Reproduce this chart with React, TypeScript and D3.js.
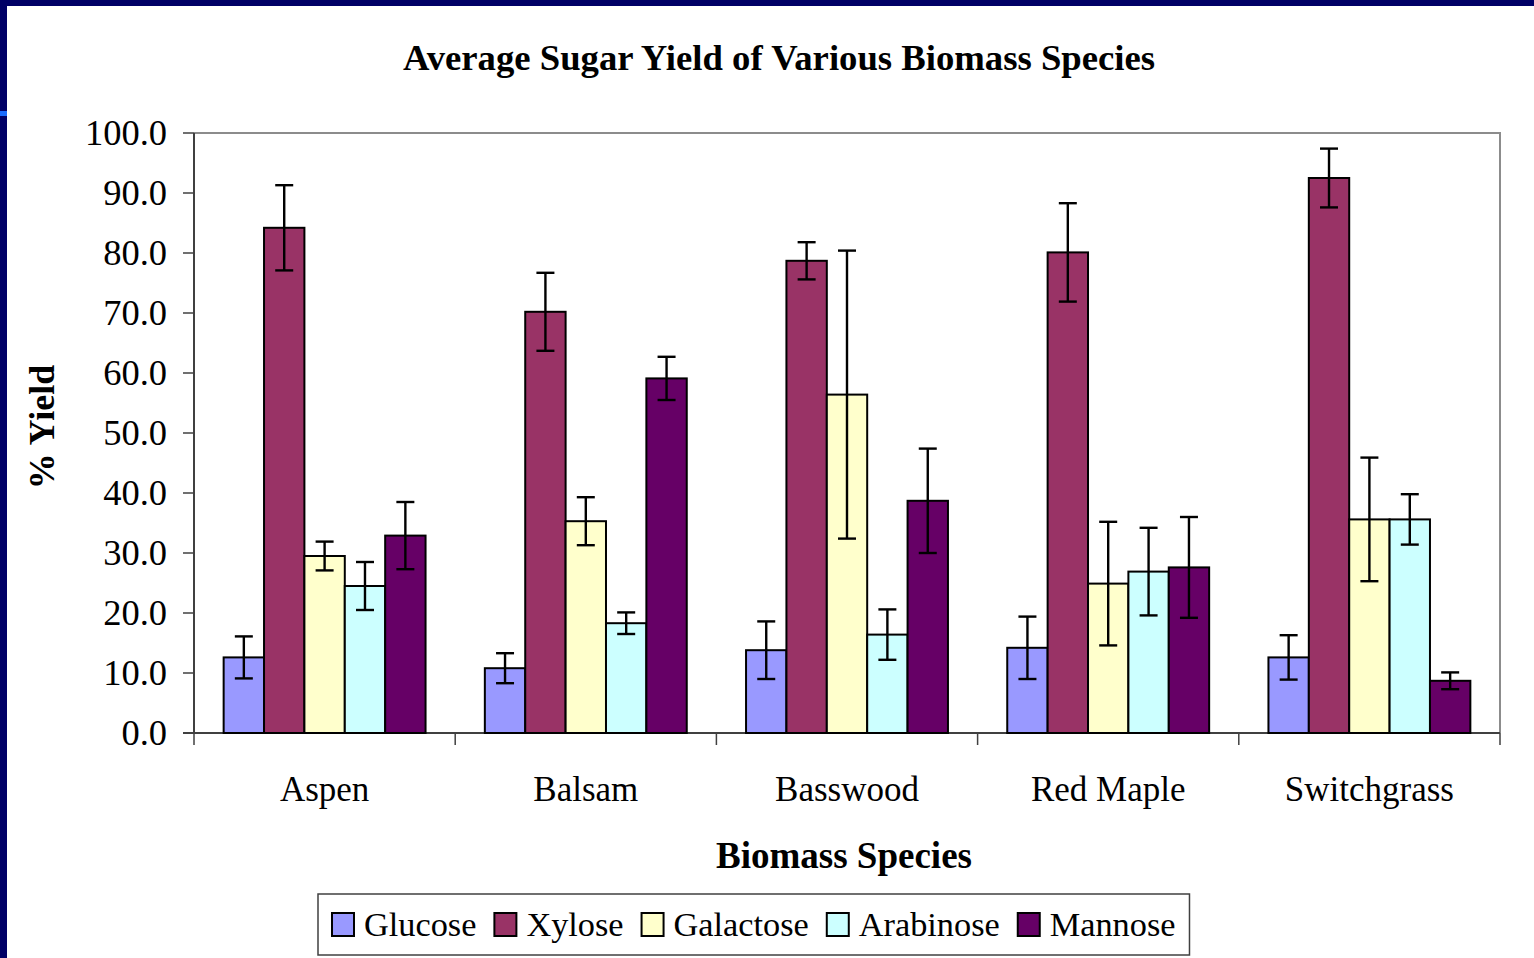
import { useEffect, useRef } from "react";
import * as d3 from "d3";

const species = ["Aspen", "Balsam", "Basswood", "Red Maple", "Switchgrass"];
const sugars = ["Glucose", "Xylose", "Galactose", "Arabinose", "Mannose"];
const sugarColors = ["#9999ff", "#993366", "#ffffcc", "#ccffff", "#660066"];

// mean % yield per species, in sugar order
const glucose = [12.6, 10.8, 13.8, 14.2, 12.6];
const xylose = [84.2, 70.2, 78.7, 80.1, 92.5];
const galactose = [29.5, 35.3, 56.4, 24.9, 35.6];
const arabinose = [24.5, 18.3, 16.4, 26.9, 35.6];
const mannose = [32.9, 59.1, 38.7, 27.6, 8.7];

// error bar half-widths
const glucoseErr = [3.5, 2.5, 4.8, 5.2, 3.7];
const xyloseErr = [7.1, 6.5, 3.1, 8.2, 4.9];
const galactoseErr = [2.4, 4.0, 24.0, 10.3, 10.3];
const arabinoseErr = [4.0, 1.8, 4.2, 7.3, 4.2];
const mannoseErr = [5.6, 3.6, 8.7, 8.4, 1.4];

const yTicks = [0, 10, 20, 30, 40, 50, 60, 70, 80, 90, 100];

const W = 1534;
const H = 958;
const serif = "'Liberation Serif', 'Times New Roman', serif";

export default function App() {
  const ref = useRef<SVGSVGElement>(null);

  useEffect(() => {
    const svg = d3.select(ref.current);
    svg.selectAll("*").remove();

    const values = [glucose, xylose, galactose, arabinose, mannose];
    const errors = [glucoseErr, xyloseErr, galactoseErr, arabinoseErr, mannoseErr];
    const rows = species.flatMap((sp, i) =>
      sugars.map((su, j) => ({
        sp,
        su,
        j,
        v: values[j][i],
        e: errors[j][i],
      })),
    );

    const margin = { top: 133, right: 34, bottom: 225, left: 194 };
    const x0 = margin.left;
    const x1 = W - margin.right;
    const yTop = margin.top;
    const yBot = H - margin.bottom;

    const xScale = d3
      .scaleBand<string>()
      .domain(species)
      .range([x0, x1])
      .paddingInner(0.227)
      .paddingOuter(0.1135);
    const xInner = d3
      .scaleBand<string>()
      .domain(sugars)
      .range([0, xScale.bandwidth()]);
    const yScale = d3.scaleLinear().domain([0, 100]).range([yBot, yTop]);
    const color = d3.scaleOrdinal<string, string>().domain(sugars).range(sugarColors);

    svg.append("rect").attr("width", W).attr("height", H).attr("fill", "#ffffff");
    // slide frame
    svg.append("rect").attr("x", 0).attr("y", 0).attr("width", W).attr("height", 6).attr("fill", "#000066");
    svg.append("rect").attr("x", 0).attr("y", 0).attr("width", 7).attr("height", H).attr("fill", "#000066");
    svg.append("rect").attr("x", 0).attr("y", 111).attr("width", 7).attr("height", 5).attr("fill", "#1a6cff");

    // plot border (top/right)
    svg
      .append("path")
      .attr("d", `M${x0},${yTop}H${x1}V${yBot}`)
      .attr("fill", "none")
      .attr("stroke", "#8c8c8c")
      .attr("stroke-width", 2);

    // y axis
    const yAxis = svg.append("g").attr("transform", `translate(${x0},0)`);
    yAxis
      .append("line")
      .attr("y1", yTop)
      .attr("y2", yBot)
      .attr("stroke", "#404040")
      .attr("stroke-width", 2);
    const yt = yAxis
      .selectAll("g.tick")
      .data(yTicks)
      .join("g")
      .attr("class", "tick")
      .attr("transform", (d) => `translate(0,${yScale(d)})`);
    yt.append("line").attr("x1", -11).attr("x2", 0).attr("stroke", "#404040").attr("stroke-width", 1.5);
    yt.append("text")
      .attr("x", -27)
      .attr("dy", "0.34em")
      .attr("text-anchor", "end")
      .attr("font-family", serif)
      .attr("font-size", 36.5)
      .attr("fill", "#000")
      .text((d) => d.toFixed(1));

    // x axis
    const xAxis = svg.append("g").attr("transform", `translate(0,${yBot})`);
    xAxis
      .append("line")
      .attr("x1", x0 - 11)
      .attr("x2", x1)
      .attr("stroke", "#404040")
      .attr("stroke-width", 2);
    const step = xScale.step();
    const bounds = species.map((s) => (xScale(s) ?? 0) - (step - xScale.bandwidth()) / 2);
    bounds.push(x1);
    xAxis
      .selectAll("line.xt")
      .data(bounds)
      .join("line")
      .attr("class", "xt")
      .attr("x1", (d) => d)
      .attr("x2", (d) => d)
      .attr("y1", 0)
      .attr("y2", 12)
      .attr("stroke", "#404040")
      .attr("stroke-width", 1.5);
    xAxis
      .selectAll("text")
      .data(species)
      .join("text")
      .attr("x", (d) => (xScale(d) ?? 0) + xScale.bandwidth() / 2)
      .attr("y", 68)
      .attr("text-anchor", "middle")
      .attr("font-family", serif)
      .attr("font-size", 35)
      .attr("fill", "#000")
      .text((d) => d);

    // bars
    const bars = svg.append("g");
    bars
      .selectAll("rect")
      .data(rows)
      .join("rect")
      .attr("x", (d) => (xScale(d.sp) ?? 0) + (xInner(d.su) ?? 0))
      .attr("y", (d) => yScale(d.v))
      .attr("width", xInner.bandwidth())
      .attr("height", (d) => yBot - yScale(d.v))
      .attr("fill", (d) => color(d.su))
      .attr("stroke", "#000")
      .attr("stroke-width", 2);

    // error bars
    const errG = svg
      .append("g")
      .selectAll("g")
      .data(rows)
      .join("g")
      .attr(
        "transform",
        (d) => `translate(${(xScale(d.sp) ?? 0) + (xInner(d.su) ?? 0) + xInner.bandwidth() / 2},0)`,
      )
      .attr("stroke", "#000")
      .attr("stroke-width", 2.4);
    errG
      .append("line")
      .attr("y1", (d) => yScale(d.v + d.e))
      .attr("y2", (d) => yScale(d.v - d.e));
    errG
      .append("line")
      .attr("x1", -9)
      .attr("x2", 9)
      .attr("y1", (d) => yScale(d.v + d.e))
      .attr("y2", (d) => yScale(d.v + d.e));
    errG
      .append("line")
      .attr("x1", -9)
      .attr("x2", 9)
      .attr("y1", (d) => yScale(d.v - d.e))
      .attr("y2", (d) => yScale(d.v - d.e));

    // titles
    svg
      .append("text")
      .attr("x", 779)
      .attr("y", 70)
      .attr("text-anchor", "middle")
      .attr("font-family", serif)
      .attr("font-weight", 700)
      .attr("font-size", 36.7)
      .text("Average Sugar Yield of Various Biomass Species");
    svg
      .append("text")
      .attr("x", 844)
      .attr("y", 868)
      .attr("text-anchor", "middle")
      .attr("font-family", serif)
      .attr("font-weight", 700)
      .attr("font-size", 37)
      .text("Biomass Species");
    svg
      .append("text")
      .attr("transform", "translate(54,427) rotate(-90)")
      .attr("text-anchor", "middle")
      .attr("font-family", serif)
      .attr("font-weight", 700)
      .attr("font-size", 36)
      .text("% Yield");

    // legend
    const legend = svg.append("g");
    const box = legend
      .append("rect")
      .attr("x", 318)
      .attr("y", 894)
      .attr("height", 61)
      .attr("fill", "#fff")
      .attr("stroke", "#404040")
      .attr("stroke-width", 1.5);
    let lx = 332;
    sugars.forEach((s) => {
      legend
        .append("rect")
        .attr("x", lx)
        .attr("y", 913)
        .attr("width", 22)
        .attr("height", 23)
        .attr("fill", color(s))
        .attr("stroke", "#000")
        .attr("stroke-width", 2);
      const t = legend
        .append("text")
        .attr("x", lx + 32)
        .attr("y", 936)
        .attr("font-family", serif)
        .attr("font-size", 34.3)
        .attr("fill", "#000")
        .text(s);
      const w = (t.node() as SVGTextElement).getComputedTextLength();
      lx += 32 + w + 18;
    });
    box.attr("width", lx - 18 + 14 - 318);
  }, []);

  return (
    <svg
      ref={ref}
      width={W}
      height={H}
      viewBox={`0 0 ${W} ${H}`}
      style={{ position: "absolute", left: 0, top: 0, display: "block" }}
    />
  );
}
